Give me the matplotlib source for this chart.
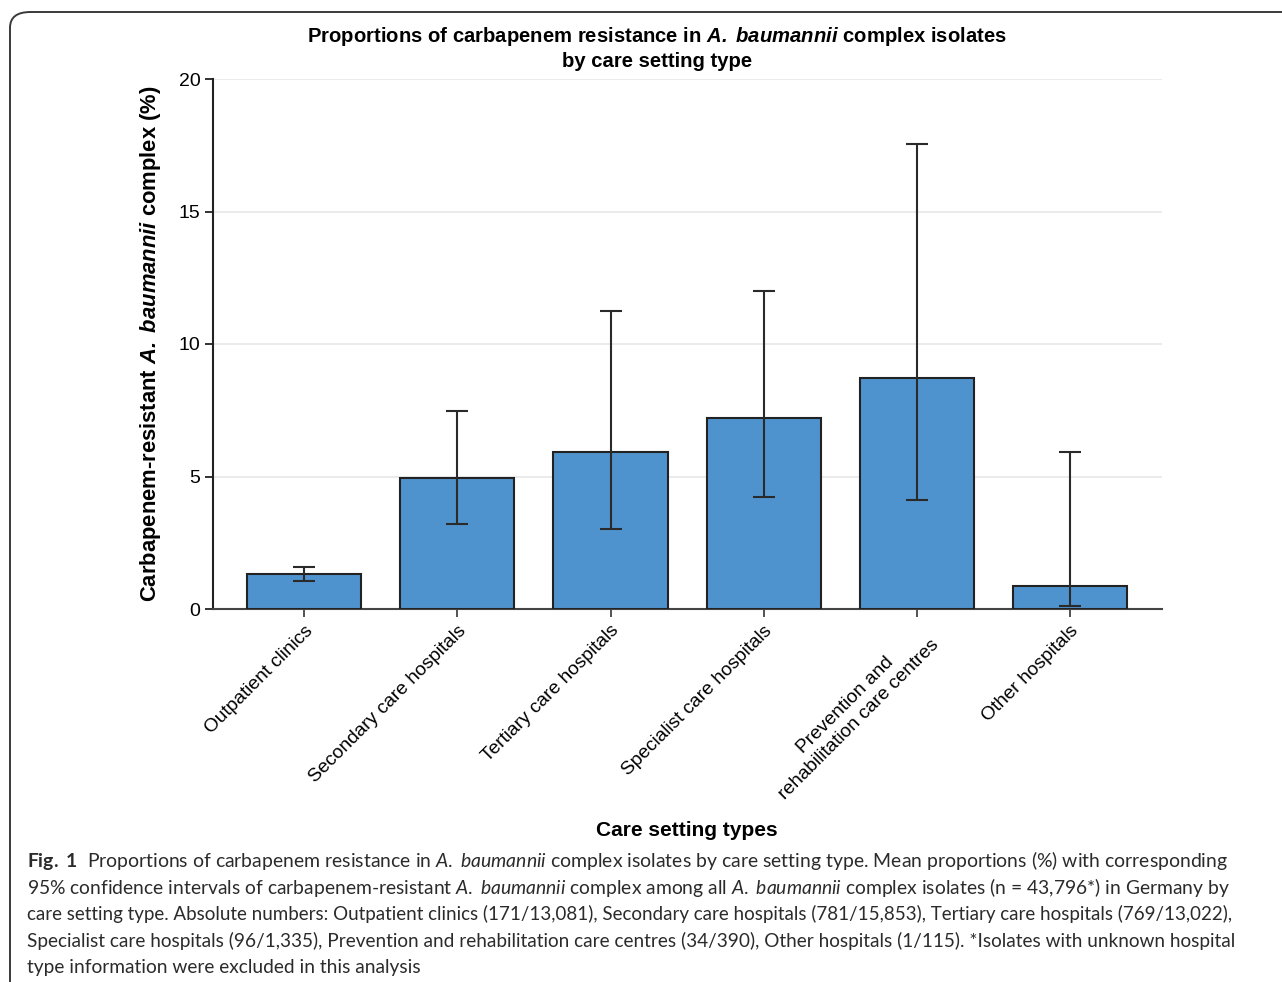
import matplotlib
matplotlib.use("Agg")
import matplotlib.pyplot as plt
from matplotlib.patches import FancyBboxPatch
import numpy as np

# ---- data -------------------------------------------------------------
categories = [
    "Outpatient clinics",
    "Secondary care hospitals",
    "Tertiary care hospitals",
    "Specialist care hospitals",
    "Prevention and\nrehabilitation care centres",
    "Other hospitals",
]
proportions = [1.31, 4.93, 5.91, 7.19, 8.72, 0.87]
ci_lower = [1.05, 3.21, 3.02, 4.23, 4.11, 0.12]
ci_upper = [1.60, 7.47, 11.25, 12.00, 17.55, 5.92]
y_ticks = [0, 5, 10, 15, 20]

caption_lines = [
    r"$\mathbf{Fig.\ 1}$  Proportions of carbapenem resistance in $\mathit{A.}$ $\mathit{baumannii}$ complex isolates by care setting type. Mean proportions (%) with corresponding",
    r"95% confidence intervals of carbapenem-resistant $\mathit{A.}$ $\mathit{baumannii}$ complex among all $\mathit{A.}$ $\mathit{baumannii}$ complex isolates (n = 43,796*) in Germany by",
    r"care setting type. Absolute numbers: Outpatient clinics (171/13,081), Secondary care hospitals (781/15,853), Tertiary care hospitals (769/13,022),",
    r"Specialist care hospitals (96/1,335), Prevention and rehabilitation care centres (34/390), Other hospitals (1/115). *Isolates with unknown hospital",
    r"type information were excluded in this analysis",
]
caption_sizes = [13.95, 13.9, 13.5, 13.65, 13.8]

# ---- style ------------------------------------------------------------
plt.rcParams["font.family"] = ["Liberation Sans", "DejaVu Sans"]
plt.rcParams["mathtext.fontset"] = "custom"
plt.rcParams["mathtext.rm"] = "Lato"
plt.rcParams["mathtext.it"] = "Lato:italic"
plt.rcParams["mathtext.bf"] = "Lato:bold"
plt.rcParams["mathtext.bfit"] = "Liberation Sans:bold:italic"

W, H = 1282, 982
fig = plt.figure(figsize=(W / 100, H / 100), dpi=100)

# rounded frame around the figure panel
frame = FancyBboxPatch((10 / W, -0.2), 1.2, (H - 12) / H + 0.2,
                       boxstyle="round,pad=0,rounding_size=0.016",
                       transform=fig.transFigure, fill=False,
                       edgecolor="#3a3a3a", linewidth=1.4, clip_on=False)
fig.patches.append(frame)

ax = fig.add_axes([213 / W, 1 - 609 / H, (1162 - 213) / W, (609 - 79) / H])

x = np.arange(len(categories))
vals = np.array(proportions)
yerr = np.vstack([vals - np.array(ci_lower), np.array(ci_upper) - vals])

ax.bar(x, vals, width=0.745, color="#4f93ce", edgecolor="#222222",
       linewidth=1.5, zorder=3)
ax.errorbar(x, vals, yerr=yerr, fmt="none", ecolor="#2a2a2a",
            elinewidth=1.5, capsize=8, capthick=1.5, zorder=4)

ax.set_xlim(-0.595, 5.6)
ax.set_ylim(0, 20)
ax.set_yticks(y_ticks)
ax.yaxis.grid(True, color="#ebebeb", linewidth=1.4, zorder=0)
ax.set_axisbelow(True)

for side in ("top", "right"):
    ax.spines[side].set_visible(False)
ax.spines["left"].set_color("#222222")
ax.spines["left"].set_linewidth(1.5)
ax.spines["bottom"].set_color("#444444")
ax.spines["bottom"].set_linewidth(1.5)

ax.tick_params(axis="y", length=6, width=1.3, color="#222222",
               labelsize=14, pad=3)
ax.tick_params(axis="x", length=5.5, width=1.3, color="#444444",
               labelsize=13.8, pad=4)
ax.set_xticks(x)
ax.set_xticklabels(categories, rotation=45, ha="right",
                   rotation_mode="anchor", multialignment="center")

ax.set_ylabel(r"Carbapenem-resistant $\mathbfit{A.}$ $\mathbfit{baumannii}$ complex (%)",
              fontsize=15.8, fontweight="bold", labelpad=11)

fig.text(687 / W, 1 - 830 / H, "Care setting types", ha="center",
         va="center", fontsize=15, fontweight="bold")

fig.text(657 / W, 1 - 48 / H,
         "Proportions of carbapenem resistance in $\\mathbfit{A.}$ $\\mathbfit{baumannii}$ complex isolates\n"
         "by care setting type",
         ha="center", va="center", fontsize=14.6, fontweight="bold",
         linespacing=1.25)

for i, (line, size) in enumerate(zip(caption_lines, caption_sizes)):
    fig.text(27 / W, 1 - (861 + 26.6 * i) / H, line, ha="left", va="center",
             fontsize=size, family="Lato", color="#2b2b2b")

fig.savefig("out.png", dpi=100)
